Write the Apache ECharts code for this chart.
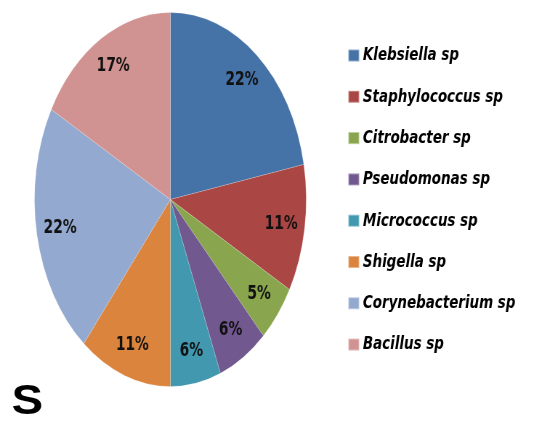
<!DOCTYPE html>
<html>
<head>
<meta charset="utf-8">
<script src="https://cdn.jsdelivr.net/npm/echarts@6/dist/echarts.min.js"></script>
<style>
  html, body { margin: 0; padding: 0; background: #fff; }
  #wrap { width: 541px; height: 424px; overflow: hidden; position: relative; }
  /* the original picture is squeezed horizontally, so the whole chart is too */
  #chart { width: 745px; height: 424px; transform: scaleX(0.7265); transform-origin: 0 0; }
</style>
</head>
<body>
<div id="wrap"><div id="chart"></div></div>
<script>
const SQUEEZE = 0.7265;

const species = [
    'Klebsiella sp',
    'Staphylococcus sp',
    'Citrobacter sp',
    'Pseudomonas sp',
    'Micrococcus sp',
    'Shigella sp',
    'Corynebacterium sp',
    'Bacillus sp'
];
const percents = [22, 11, 5, 6, 6, 11, 22, 17];
const colors = ['#4572A7', '#AA4643', '#89A54E', '#71588F', '#4198AF', '#DB843D', '#93A9CF', '#D19392'];

const pieData = species.map((name, i) => ({
    name: name,
    value: percents[i],
    itemStyle: { color: colors[i] }
}));

const chart = echarts.init(document.getElementById('chart'), null, { renderer: 'canvas' });

const center = [234.5, 199.5];

chart.setOption({
    animation: false,
    backgroundColor: '#fff',
    legend: {
        orient: 'vertical',
        left: 473.5,
        top: 41,
        itemWidth: 15,
        itemHeight: 12,
        itemGap: 22.3,
        icon: 'rect',
        selectedMode: false,
        data: species,
        textStyle: {
            fontFamily: 'DejaVu Sans',
            fontWeight: 'bold',
            fontStyle: 'italic',
            fontSize: 18.5,
            lineHeight: 18,
            color: '#000'
        }
    },
    graphic: [{
        type: 'text',
        x: 16,
        y: 402,
        scaleX: 1.12 / SQUEEZE,
        style: {
            text: 'S',
            font: 'bold 42px "Liberation Sans"',
            fill: '#000',
            textVerticalAlign: 'middle'
        }
    }],
    series: [
        {
            // the slices
            type: 'pie',
            center: center,
            radius: [0, 187],
            startAngle: 90,
            clockwise: true,
            silent: true,
            label: { show: false },
            labelLine: { show: false },
            itemStyle: { borderColor: 'rgba(255,255,255,0.4)', borderWidth: 0.5 },
            data: pieData
        },
        {
            // transparent ring that only carries the labels near the rim
            type: 'pie',
            center: center,
            radius: [116, 187],
            startAngle: 90,
            clockwise: true,
            silent: true,
            itemStyle: { color: 'rgba(0,0,0,0)' },
            labelLine: { show: false },
            label: {
                show: true,
                position: 'inside',
                formatter: '{c}%',
                fontFamily: 'DejaVu Sans',
                fontWeight: 'bold',
                fontSize: 19,
                color: '#111'
            },
            data: species.map((name, i) => ({ name: name, value: percents[i] }))
        }
    ]
});
</script>
</body>
</html>
